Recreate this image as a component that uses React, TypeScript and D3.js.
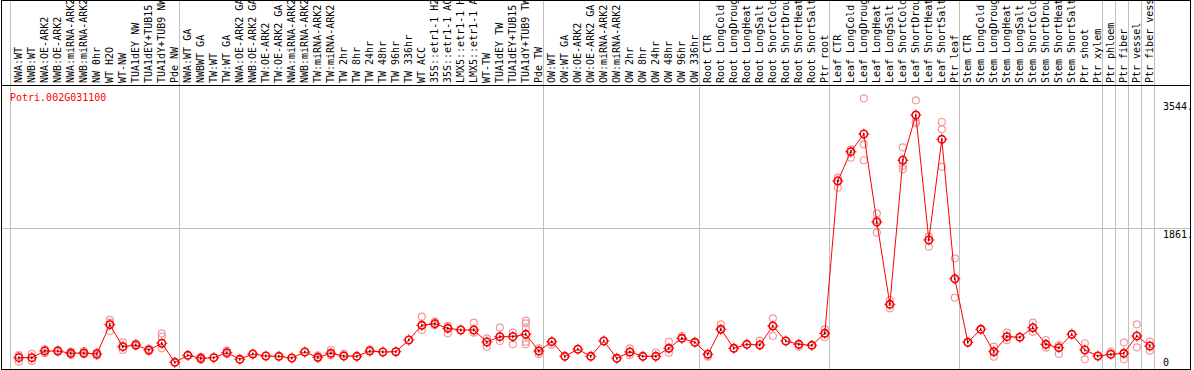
import * as d3 from "d3";

const geneId = "Potri.002G031100";

const categories = [
  "NWA:WT", "NWB:WT", "NWA:OE-ARK2", "NWB:OE-ARK2", "NWA:miRNA-ARK2", "NWB:miRNA-ARK2", "NW 0hr",
  "WT H2O", "WT-NW", "TUA1dEY NW", "TUA1dEY+TUB15", "TUA1dY+TUB9 NW", "Pde NW",
  "NWA:WT GA", "NWBWT GA", "TW:WT", "TW:WT GA", "NWA:OE-ARK2 GA", "NWB:OE-ARK2 GA", "TW:OE-ARK2",
  "TW:OE-ARK2 GA", "NWA:miRNA-ARK2", "NWB:miRNA-ARK2", "TW:miRNA-ARK2", "TW:miRNA-ARK2", "TW 2hr",
  "TW 8hr", "TW 24hr", "TW 48hr", "TW 96hr", "TW 336hr", "WT ACC", "35S::etr1-1 H2", "35S::etr1-1 AC",
  "LMX5::etr1-1 H", "LMX5::etr1-1 A", "WT-TW", "TUA1dEY TW", "TUA1dEY+TUB15", "TUA1dY+TUB9 TW", "Pde TW",
  "OW:WT", "OW:WT GA", "OW:OE-ARK2", "OW:OE-ARK2 GA", "OW:miRNA-ARK2", "OW:miRNA-ARK2", "OW 2hr",
  "OW 8hr", "OW 24hr", "OW 48hr", "OW 96hr", "OW 336hr",
  "Root CTR", "Root LongCold", "Root LongDroug", "Root LongHeat", "Root LongSalt", "Root ShortCold",
  "Root ShortDrou", "Root ShortHeat", "Root ShortSalt", "Ptr root",
  "Leaf CTR", "Leaf LongCold", "Leaf LongDroug", "Leaf LongHeat", "Leaf LongSalt", "Leaf ShortCold",
  "Leaf ShortDrou", "Leaf ShortHeat", "Leaf ShortSalt", "Ptr leaf",
  "Stem CTR", "Stem LongCold", "Stem LongDroug", "Stem LongHeat", "Stem LongSalt", "Stem ShortCold",
  "Stem ShortDrou", "Stem ShortHeat", "Stem ShortSalt", "Ptr shoot", "Ptr xylem",
  "Ptr phloem", "Ptr fiber", "Ptr vessel", "Ptr fiber vess",
];

// index where each sample group starts (vertical gray separators)
const groupStarts = [0, 13, 41, 53, 63, 73, 84, 85, 86, 87, 88];

const means = [
  149, 149, 237, 237, 207, 211, 198, 584, 294, 316, 250, 339, 88,
  180, 141, 149, 215, 128, 198, 171, 167, 145, 224, 154, 207, 171, 167, 237, 224, 228, 382, 576, 597,
  536, 514, 514, 356, 426, 426, 457, 237,
  360, 167, 260, 167, 369, 141, 224, 167, 167, 273, 404, 352,
  194, 523, 273, 325, 316, 567, 369, 325, 312, 470,
  2477, 2863, 3096, 1937, 852, 2750, 3346, 1700, 3026, 1190,
  352, 523, 228, 426, 418, 544, 325, 281, 457, 250, 171,
  194, 207, 435, 303,
];

const replicates = [
  [184, 167, 96], [198, 145, 105], [259, 245, 207], [250, 237, 228], [228, 207, 186], [237, 198, 198],
  [220, 198, 175], [646, 610, 500], [352, 294, 250], [339, 316, 303], [265, 250, 235], [470, 426, 273], [88],
  [180], [160, 141, 119], [149], [241, 215, 198], [128], [198], [171], [167], [145], [224], [180, 154, 140],
  [250, 207, 180], [198, 171], [167], [259, 237], [224], [228], [382], [689, 576, 514], [623, 597, 580],
  [567, 536, 470], [514], [610, 514, 479], [404, 356, 294], [544, 426, 369], [479, 426, 325],
  [637, 602, 536, 360, 325], [273, 237, 198],
  [360, 316], [167], [260], [167], [369], [141], [273, 224, 184], [167], [215, 167], [360, 273, 215],
  [435, 404], [352],
  [194, 162], [589, 523], [273], [325], [373, 316], [668, 567, 435], [369], [325, 294], [312],
  [523, 470, 418],
  [2521, 2477, 2389], [2894, 2863, 2784], [3566, 2960, 2750], [2051, 1960, 1796], [909, 852, 800],
  [2921, 2675, 2631], [3540, 3260, 3237], [1743, 1700, 1611], [3254, 3158, 2665], [1458, 1180, 939],
  [352], [523], [294, 228, 162], [479, 426, 380], [418], [610, 544, 490], [382, 325, 281],
  [316, 281, 198], [457], [339, 250, 128], [171],
  [228, 194], [352, 207, 128], [589, 435, 286], [360, 303, 241],
];

const yTicks = [0, 1861, 3544];
const yTickLabels = ["0", "1861.", "3544."];

const W = 1194;
const H = 370;
const headerH = 85;
const plotRight = 1154;
const frameRight = 1190;
const font = "'DejaVu Sans Mono', monospace";

export default function App() {
  const x = d3.scaleBand<string>().domain(categories.map((_, i) => String(i))).range([10, plotRight]);
  const bw = x.bandwidth();
  const cx = (i: number) => (x(String(i)) ?? 0) + bw * 0.68;
  const y = d3.scaleLinear().domain([0, 3544]).range([369, 100]);

  const line = d3
    .line<number>()
    .x((_, i) => cx(i))
    .y((d) => y(d));

  const sepX = (k: number) => (k < categories.length ? x(String(k)) ?? 0 : plotRight);

  return (
    <svg
      width={W}
      height={H}
      style={{ position: "absolute", left: 0, top: 0, background: "#fff" }}
      shapeRendering="crispEdges"
    >
      {/* gridline */}
      <line x1={1} x2={frameRight} y1={Math.round(y(1861)) + 0.5} y2={Math.round(y(1861)) + 0.5} stroke="#c0c0c0" />
      {/* group separators */}
      {groupStarts.map((k) => (
        <line key={k} x1={Math.round(sepX(k)) + 0.5} x2={Math.round(sepX(k)) + 0.5} y1={0} y2={369} stroke="#c0c0c0" />
      ))}
      {/* frame */}
      <line x1={1.5} x2={1.5} y1={0} y2={369} stroke="#000" />
      <line x1={frameRight + 0.5} x2={frameRight + 0.5} y1={0} y2={369} stroke="#000" />
      <line x1={1} x2={frameRight + 1} y1={0.5} y2={0.5} stroke="#000" />
      <line x1={1} x2={frameRight + 1} y1={headerH + 0.5} y2={headerH + 0.5} stroke="#000" />
      <line x1={1} x2={frameRight + 1} y1={369.5} y2={369.5} stroke="#000" />

      {/* column labels */}
      {categories.map((c, i) => (
        <text
          key={i}
          transform={`translate(${cx(i) + 3.5},${headerH - 2}) rotate(-90)`}
          fontFamily={font}
          fontSize={10}
          fill="#000"
        >
          {c}
        </text>
      ))}

      <text x={10} y={101} fontFamily={font} fontSize={10} fill="#ff0000">
        {geneId}
      </text>

      {/* y labels */}
      {yTicks.map((t, i) => (
        <text
          key={t}
          x={1163}
          y={t === 0 ? 366 : y(t) + 10}
          fontFamily={font}
          fontSize={10}
          fill="#000"
        >
          {yTickLabels[i]}
        </text>
      ))}

      <g shapeRendering="auto">
        {/* replicates */}
        {replicates.map((reps, i) =>
          reps.map((v, j) => (
            <circle key={`${i}-${j}`} cx={cx(i)} cy={y(v)} r={3.5} fill="none" stroke="#f09a9a" strokeWidth={1.2} />
          ))
        )}
        <path d={line(means) ?? ""} fill="none" stroke="#ff0000" strokeWidth={1} />
        {/* means */}
        {means.map((v, i) => (
          <g key={i} transform={`translate(${cx(i)},${y(v)})`}>
            <circle r={3.7} fill="none" stroke="#ff0000" strokeWidth={1.6} />
            <path d="M0,-5.5V-3.5M0,3.5V5.5M-5.5,0H-3.5M3.5,0H5.5" stroke="#ff0000" strokeWidth={1} />
            <path d="M0,-1.5V1.5" stroke="#000" strokeWidth={1} />
          </g>
        ))}
      </g>
    </svg>
  );
}
